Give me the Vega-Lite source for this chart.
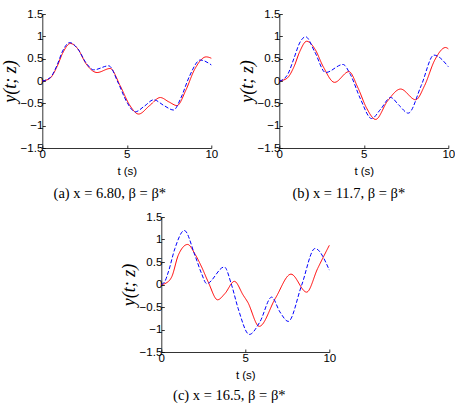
{
  "$schema": "https://vega.github.io/schema/vega-lite/v6.json",
  "padding": {"left": 1, "top": 8, "right": 0, "bottom": 0},
  "config": {
    "view": {"stroke": null},
    "axis": {"grid": false, "domainColor": "black", "domainWidth": 0.8, "tickColor": "black", "tickWidth": 0.8, "tickSize": -3, "labelFont": "Liberation Sans", "labelFontSize": 11.5, "labelColor": "black", "titleColor": "black"},
    "axisX": {"labelFlush": false, "labelPadding": 3, "titleFont": "Liberation Sans", "titleFontSize": 11.5, "titleFontWeight": "normal", "titlePadding": 6},
    "axisY": {"labelPadding": 2.5, "titleFont": "Liberation Serif", "titleFontStyle": "italic", "titleFontWeight": "normal", "titleFontSize": 18, "titlePadding": 1},
    "title": {"font": "Liberation Serif", "fontSize": 14.5, "fontWeight": "normal", "color": "black", "orient": "bottom", "offset": 10}
  },
  "data": {"values": [
    {"p": "a", "s": "r", "t": 0, "y": 0}, {"p": "a", "s": "r", "t": 0.45, "y": 0.06}, {"p": "a", "s": "r", "t": 0.87, "y": 0.32}, {"p": "a", "s": "r", "t": 1.2, "y": 0.62}, {"p": "a", "s": "r", "t": 1.66, "y": 0.84}, {"p": "a", "s": "r", "t": 2.1, "y": 0.72}, {"p": "a", "s": "r", "t": 2.6, "y": 0.38}, {"p": "a", "s": "r", "t": 3.24, "y": 0.19}, {"p": "a", "s": "r", "t": 4.02, "y": 0.28}, {"p": "a", "s": "r", "t": 4.6, "y": -0.1}, {"p": "a", "s": "r", "t": 5.17, "y": -0.54}, {"p": "a", "s": "r", "t": 5.7, "y": -0.74}, {"p": "a", "s": "r", "t": 6.35, "y": -0.55}, {"p": "a", "s": "r", "t": 6.98, "y": -0.37}, {"p": "a", "s": "r", "t": 7.5, "y": -0.47}, {"p": "a", "s": "r", "t": 7.97, "y": -0.55}, {"p": "a", "s": "r", "t": 8.5, "y": -0.2}, {"p": "a", "s": "r", "t": 9.0, "y": 0.25}, {"p": "a", "s": "r", "t": 9.7, "y": 0.54}, {"p": "a", "s": "r", "t": 10, "y": 0.51},
    {"p": "a", "s": "b", "t": 0, "y": 0}, {"p": "a", "s": "b", "t": 0.45, "y": 0.07}, {"p": "a", "s": "b", "t": 0.87, "y": 0.35}, {"p": "a", "s": "b", "t": 1.2, "y": 0.67}, {"p": "a", "s": "b", "t": 1.62, "y": 0.86}, {"p": "a", "s": "b", "t": 2.1, "y": 0.72}, {"p": "a", "s": "b", "t": 2.6, "y": 0.4}, {"p": "a", "s": "b", "t": 3.04, "y": 0.25}, {"p": "a", "s": "b", "t": 3.93, "y": 0.34}, {"p": "a", "s": "b", "t": 4.5, "y": -0.05}, {"p": "a", "s": "b", "t": 5.0, "y": -0.47}, {"p": "a", "s": "b", "t": 5.5, "y": -0.69}, {"p": "a", "s": "b", "t": 6.05, "y": -0.56}, {"p": "a", "s": "b", "t": 6.59, "y": -0.42}, {"p": "a", "s": "b", "t": 7.2, "y": -0.55}, {"p": "a", "s": "b", "t": 7.77, "y": -0.65}, {"p": "a", "s": "b", "t": 8.2, "y": -0.38}, {"p": "a", "s": "b", "t": 8.7, "y": 0.1}, {"p": "a", "s": "b", "t": 9.35, "y": 0.47}, {"p": "a", "s": "b", "t": 10, "y": 0.36},
    {"p": "b", "s": "r", "t": 0, "y": 0}, {"p": "b", "s": "r", "t": 0.45, "y": 0.06}, {"p": "b", "s": "r", "t": 0.87, "y": 0.32}, {"p": "b", "s": "r", "t": 1.2, "y": 0.65}, {"p": "b", "s": "r", "t": 1.62, "y": 0.89}, {"p": "b", "s": "r", "t": 2.1, "y": 0.72}, {"p": "b", "s": "r", "t": 2.6, "y": 0.32}, {"p": "b", "s": "r", "t": 3.27, "y": -0.03}, {"p": "b", "s": "r", "t": 4.12, "y": 0.21}, {"p": "b", "s": "r", "t": 4.65, "y": -0.15}, {"p": "b", "s": "r", "t": 5.17, "y": -0.61}, {"p": "b", "s": "r", "t": 5.7, "y": -0.86}, {"p": "b", "s": "r", "t": 6.4, "y": -0.45}, {"p": "b", "s": "r", "t": 7.18, "y": -0.18}, {"p": "b", "s": "r", "t": 8.07, "y": -0.42}, {"p": "b", "s": "r", "t": 8.6, "y": -0.1}, {"p": "b", "s": "r", "t": 9.2, "y": 0.47}, {"p": "b", "s": "r", "t": 9.84, "y": 0.75}, {"p": "b", "s": "r", "t": 10, "y": 0.72},
    {"p": "b", "s": "b", "t": 0, "y": 0}, {"p": "b", "s": "b", "t": 0.25, "y": 0.04}, {"p": "b", "s": "b", "t": 0.5, "y": 0.15}, {"p": "b", "s": "b", "t": 0.87, "y": 0.51}, {"p": "b", "s": "b", "t": 1.2, "y": 0.85}, {"p": "b", "s": "b", "t": 1.56, "y": 0.99}, {"p": "b", "s": "b", "t": 2.1, "y": 0.65}, {"p": "b", "s": "b", "t": 2.74, "y": 0.19}, {"p": "b", "s": "b", "t": 3.77, "y": 0.37}, {"p": "b", "s": "b", "t": 4.2, "y": 0.15}, {"p": "b", "s": "b", "t": 4.8, "y": -0.4}, {"p": "b", "s": "b", "t": 5.46, "y": -0.84}, {"p": "b", "s": "b", "t": 6.0, "y": -0.63}, {"p": "b", "s": "b", "t": 6.59, "y": -0.37}, {"p": "b", "s": "b", "t": 7.1, "y": -0.55}, {"p": "b", "s": "b", "t": 7.63, "y": -0.72}, {"p": "b", "s": "b", "t": 8.4, "y": -0.1}, {"p": "b", "s": "b", "t": 9.15, "y": 0.58}, {"p": "b", "s": "b", "t": 10, "y": 0.32},
    {"p": "c", "s": "r", "t": 0, "y": 0}, {"p": "c", "s": "r", "t": 0.22, "y": 0.02}, {"p": "c", "s": "r", "t": 0.62, "y": 0.17}, {"p": "c", "s": "r", "t": 1.01, "y": 0.65}, {"p": "c", "s": "r", "t": 1.57, "y": 0.89}, {"p": "c", "s": "r", "t": 2.0, "y": 0.68}, {"p": "c", "s": "r", "t": 2.4, "y": 0.39}, {"p": "c", "s": "r", "t": 2.8, "y": 0.05}, {"p": "c", "s": "r", "t": 3.35, "y": -0.34}, {"p": "c", "s": "r", "t": 3.79, "y": -0.2}, {"p": "c", "s": "r", "t": 4.35, "y": 0.07}, {"p": "c", "s": "r", "t": 4.88, "y": -0.24}, {"p": "c", "s": "r", "t": 5.14, "y": -0.39}, {"p": "c", "s": "r", "t": 5.83, "y": -0.93}, {"p": "c", "s": "r", "t": 6.8, "y": -0.3}, {"p": "c", "s": "r", "t": 7.72, "y": 0.23}, {"p": "c", "s": "r", "t": 8.65, "y": -0.17}, {"p": "c", "s": "r", "t": 9.3, "y": 0.35}, {"p": "c", "s": "r", "t": 10, "y": 0.87},
    {"p": "c", "s": "b", "t": 0, "y": 0}, {"p": "c", "s": "b", "t": 0.2, "y": 0.06}, {"p": "c", "s": "b", "t": 0.42, "y": 0.28}, {"p": "c", "s": "b", "t": 0.81, "y": 0.8}, {"p": "c", "s": "b", "t": 1.37, "y": 1.2}, {"p": "c", "s": "b", "t": 2.0, "y": 0.65}, {"p": "c", "s": "b", "t": 2.4, "y": 0.24}, {"p": "c", "s": "b", "t": 2.7, "y": 0.02}, {"p": "c", "s": "b", "t": 3.75, "y": 0.39}, {"p": "c", "s": "b", "t": 4.19, "y": -0.02}, {"p": "c", "s": "b", "t": 4.58, "y": -0.54}, {"p": "c", "s": "b", "t": 5.24, "y": -1.11}, {"p": "c", "s": "b", "t": 5.87, "y": -0.83}, {"p": "c", "s": "b", "t": 6.57, "y": -0.28}, {"p": "c", "s": "b", "t": 7.06, "y": -0.61}, {"p": "c", "s": "b", "t": 7.56, "y": -0.82}, {"p": "c", "s": "b", "t": 8.35, "y": -0.02}, {"p": "c", "s": "b", "t": 9.15, "y": 0.8}, {"p": "c", "s": "b", "t": 10, "y": 0.32}
  ]},
  "vconcat": [
    {
      "hconcat": [
        {
          "width": 169, "height": 134,
          "transform": [{"filter": "datum.p == 'a'"}],
          "title": {"text": "(a) x = 6.80, β = β*", "dx": -17},
          "mark": {"type": "line", "interpolate": "monotone", "strokeWidth": 1},
          "encoding": {
            "x": {"field": "t", "type": "quantitative", "scale": {"domain": [0, 10]}, "axis": {"values": [0, 5, 10], "title": "t (s)"}},
            "y": {"field": "y", "type": "quantitative", "scale": {"domain": [-1.5, 1.5]}, "axis": {"values": [-1.5, -1, -0.5, 0, 0.5, 1, 1.5], "format": "~g", "title": "y(t; z)"}},
            "color": {"field": "s", "type": "nominal", "sort": ["r", "b"], "scale": {"domain": ["r", "b"], "range": ["#ff0000", "#0000ff"]}, "legend": null},
            "strokeDash": {"field": "s", "type": "nominal", "sort": ["r", "b"], "scale": {"domain": ["r", "b"], "range": [[1, 0], [4, 2]]}, "legend": null}
          }
        },
        {
          "width": 169, "height": 134,
          "transform": [{"filter": "datum.p == 'b'"}],
          "title": {"text": "(b) x = 11.7, β = β*", "dx": -15},
          "mark": {"type": "line", "interpolate": "monotone", "strokeWidth": 1},
          "encoding": {
            "x": {"field": "t", "type": "quantitative", "scale": {"domain": [0, 10]}, "axis": {"values": [0, 5, 10], "title": "t (s)"}},
            "y": {"field": "y", "type": "quantitative", "scale": {"domain": [-1.5, 1.5]}, "axis": {"values": [-1.5, -1, -0.5, 0, 0.5, 1, 1.5], "format": "~g", "title": "y(t; z)"}},
            "color": {"field": "s", "type": "nominal", "sort": ["r", "b"], "scale": {"domain": ["r", "b"], "range": ["#ff0000", "#0000ff"]}, "legend": null},
            "strokeDash": {"field": "s", "type": "nominal", "sort": ["r", "b"], "scale": {"domain": ["r", "b"], "range": [[1, 0], [4, 2]]}, "legend": null}
          }
        }
      ],
      "spacing": 68,
      "bounds": "flush"
    },
    {
      "width": 168, "height": 135,
      "transform": [{"filter": "datum.p == 'c'"}],
      "title": {"text": "(c) x = 16.5, β = β*", "dx": -16, "offset": 8},
      "mark": {"type": "line", "interpolate": "monotone", "strokeWidth": 1},
      "encoding": {
        "x": {"field": "t", "type": "quantitative", "scale": {"domain": [0, 10]}, "axis": {"values": [0, 5, 10], "title": "t (s)"}},
        "y": {"field": "y", "type": "quantitative", "scale": {"domain": [-1.5, 1.5]}, "axis": {"values": [-1.5, -1, -0.5, 0, 0.5, 1, 1.5], "format": "~g", "title": "y(t; z)"}},
        "color": {"field": "s", "type": "nominal", "sort": ["r", "b"], "scale": {"domain": ["r", "b"], "range": ["#ff0000", "#0000ff"]}, "legend": null},
        "strokeDash": {"field": "s", "type": "nominal", "sort": ["r", "b"], "scale": {"domain": ["r", "b"], "range": [[1, 0], [4, 2]]}, "legend": null}
      }
    }
  ],
  "spacing": 10,
  "center": true
}
